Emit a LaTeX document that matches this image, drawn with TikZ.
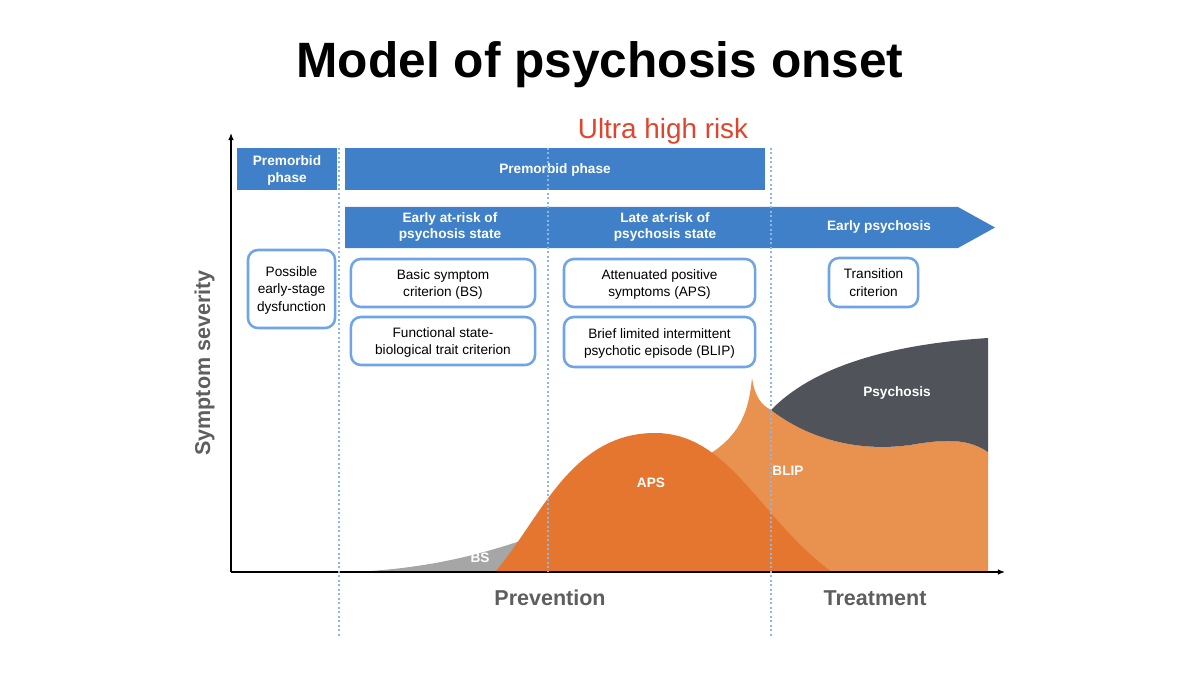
\documentclass[tikz,border=0pt]{standalone}
\usepackage{fontspec}
\setmainfont{Liberation Sans}
\usetikzlibrary{arrows.meta}
\definecolor{barBlue}{HTML}{3F80C8}
\definecolor{boxBlue}{HTML}{6FA5E6}
\definecolor{dotBlue}{HTML}{8DB6E6}
\definecolor{riskRed}{HTML}{E0442C}
\definecolor{apsOrange}{HTML}{E5762F}
\definecolor{blipOrange}{HTML}{E9914F}
\definecolor{psyGray}{HTML}{50535A}
\definecolor{bsGray}{HTML}{A6A6A6}
\definecolor{labelGray}{HTML}{5E5E5E}

\begin{document}
\begin{tikzpicture}
[x=0.025cm, y=-0.025cm,%
  barDecorate/.style={fill=barBlue, inner sep=0pt, text=white, align=center,
    font=\fontsize{9.7}{11.5}\selectfont\bfseries, text depth=-5.5pt},%
  boxDecorate/.style={draw=boxBlue, line width=1.8pt, rounded corners=7pt,
    fill=white, inner sep=0pt, align=center, font=\fontsize{9.7}{12.2}\selectfont},%
  lineDecorate/.style={-{Latex[length=5pt,width=4pt]}, line width=0.9pt},%
  dotDecorate/.style={dotBlue, line width=1.1pt, dash pattern=on 1.4pt off 1.8pt},%
  areaText/.style={text=white, align=center, font=\fontsize{9.7}{11.5}\selectfont\bfseries},%
  axisText/.style={text=labelGray, font=\fontsize{15.3}{18}\selectfont\bfseries}]
\useasboundingbox (0,0) rectangle (1200,675);
%%
%% titles
\node (titleText) at (600,78) [anchor=base, font=\fontsize{35.3}{40}\selectfont\bfseries]
  {Model of psychosis onset};
\node (ultraRisk) at (663,139) [anchor=base, text=riskRed, font=\fontsize{19.8}{22}\selectfont]
  {Ultra high risk};
%%
%% phase bars
\node (premorbidA) at (287,169) [barDecorate, minimum width=2.5cm, minimum height=1.05cm]
  {Premorbid\\phase};
\node (premorbidB) at (555,169) [barDecorate, minimum width=10.5cm, minimum height=1.05cm]
  {Premorbid phase};
\fill[barBlue] (345,207) -- (958,207) -- (995,227.5) -- (958,248) -- (345,248) -- cycle;
\foreach \nodename/\x/\y/\label in {
  earlyRisk/450/227/{Early at-risk of\\psychosis state},
  lateRisk/665/227/{Late at-risk of\\psychosis state},
  earlyPsy/879/226.5/{Early psychosis}}
{
  \node (\nodename) at (\x,\y) [areaText] {\label};
}
%%
%% criteria boxes
\foreach \nodename/\x/\y/\w/\h/\d/\label in {
  dysfunction/291.5/289/2.175/1.95/-1.5/{Possible\\early-stage\\dysfunction},
  basic/443/283/4.6/1.2/-3/{Basic symptom\\criterion (BS)},
  functional/443/341/4.6/1.2/-3.5/{Functional state-\\biological trait criterion},
  attenuated/659.5/283/4.775/1.2/-4/{Attenuated positive\\symptoms (APS)},
  brief/659.5/342/4.775/1.25/-3/{Brief limited intermittent\\psychotic episode (BLIP)},
  transition/873.5/282.5/2.225/1.225/-6/{Transition\\criterion}}
{
  \node (\nodename) at (\x,\y) [boxDecorate, minimum width=\w cm, minimum height=\h cm,
    text depth=\d pt] {\label};
}
%%
%% severity curves
\fill[bsGray] (355,572) .. controls (430,568) and (480,555) .. (535,536) -- (535,572) -- cycle;
\fill[blipOrange] (700,572) -- (700,460) .. controls (735,440) and (748,420) .. (752,378)
  .. controls (755,398) and (762,405) .. (771,410)
  .. controls (810,440) and (860,452) .. (910,445)
  .. controls (950,438) and (970,440) .. (988,452) -- (988,572) -- cycle;
\fill[psyGray] (771,410) .. controls (810,370) and (880,345) .. (988,338) -- (988,452)
  .. controls (970,440) and (950,438) .. (910,445)
  .. controls (860,452) and (810,440) .. (771,410) -- cycle;
\fill[apsOrange] (495,572) .. controls (540,520) and (570,433) .. (655,433)
  .. controls (730,433) and (760,520) .. (832,572) -- cycle;
\foreach \nodename/\x/\y/\label in {
  bsText/480/558/BS, apsText/651/483/APS, blipText/788/471/BLIP, psyText/897/393/Psychosis}
{
  \node (\nodename) at (\x,\y) [areaText] {\label};
}
%%
%% axes
\coordinate (origin) at (231,572);
\coordinate (yEnd) at (231,133);
\coordinate (xEnd) at (1005,572);
\draw[lineDecorate] (origin) -- (yEnd);
\draw[lineDecorate] (origin) -- (xEnd);
\node (severity) at (210,363) [anchor=base, rotate=90, axisText] {Symptom severity};
\node (prevention) at (550,605) [anchor=base, axisText] {Prevention};
\node (treatment) at (875,605) [anchor=base, axisText] {Treatment};
%%
%% dotted phase borders
\draw[dotDecorate] (339,148) -- (339,638);
\draw[dotDecorate] (548,148) -- (548,572);
\draw[dotDecorate] (771,148) -- (771,638);
\end{tikzpicture}
\end{document}
